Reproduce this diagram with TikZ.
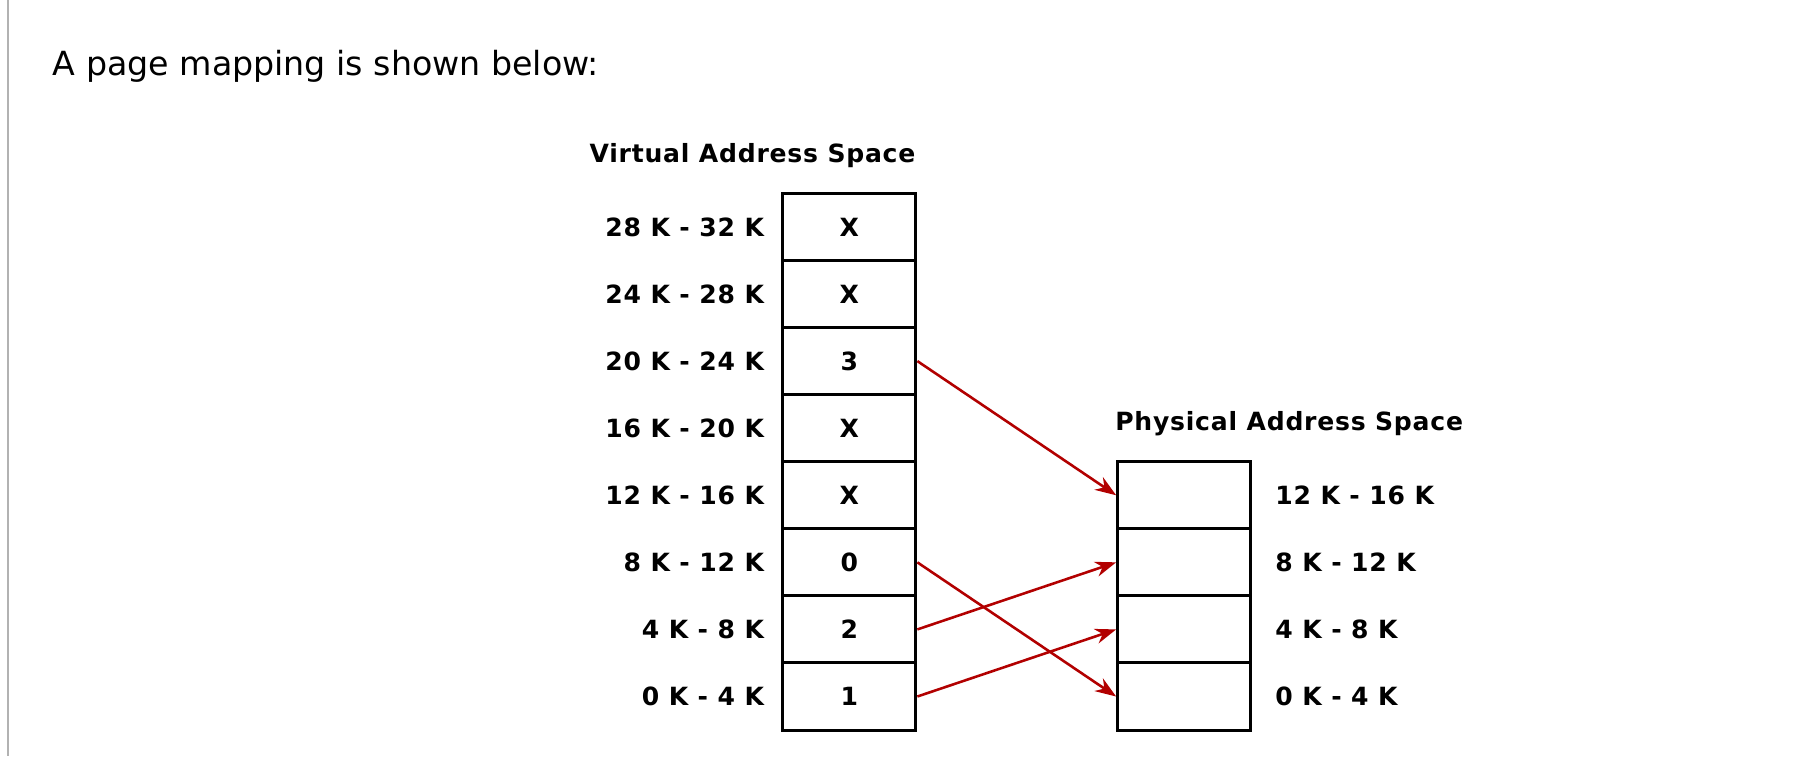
\documentclass[tikz,border=0pt]{standalone}
\usepackage{fontspec}
\setmainfont{DejaVu Sans}
\newfontfamily\labfont[LetterSpace=3]{DejaVu Sans Bold}
\usetikzlibrary{arrows.meta}
\definecolor{arr}{HTML}{B20000}
\tikzset{
  cell/.style={draw,line width=2.6pt,minimum width=114pt,minimum height=57.5pt,inner sep=0pt,font=\fontsize{21.5}{24}\labfont},
  lab/.style={inner sep=0pt,font=\fontsize{21.5}{24}\labfont},
  map/.style={draw=arr,line width=2.2pt,-{Stealth[length=18pt,width=13pt]}}
}
\begin{document}
\begin{tikzpicture}[x=1pt,y=-1pt]
\useasboundingbox (0,0) rectangle (1560,648);
\fill[white] (0,0) rectangle (1560,648);
\draw[gray!60,line width=1.5pt] (7,0) -- (7,648);
\node[anchor=west,inner sep=0pt,font=\fontsize{28.5}{32}\selectfont] (intro) at (45,57) {A page mapping is shown below:};
\node[lab] (vt) at (645,133) {Virtual Address Space};
\node[lab] (pt) at (1105,363) {Physical Address Space};
\foreach \i/\t/\l in {0/X/28 K - 32 K,1/X/24 K - 28 K,2/3/20 K - 24 K,3/X/16 K - 20 K,4/X/12 K - 16 K,5/0/8 K - 12 K,6/2/4 K - 8 K,7/1/0 K - 4 K}{
  \node[cell] (v\i) at (728,{194.5+57.5*\i}) {\t};
  \node[lab,anchor=east] (vl\i) at (655,{194.5+57.5*\i}) {\l};
}
\foreach \i/\l in {0/12 K - 16 K,1/8 K - 12 K,2/4 K - 8 K,3/0 K - 4 K}{
  \node[cell] (p\i) at (1015,{424.5+57.5*\i}) {};
  \node[lab,anchor=west] (pl\i) at (1093,{424.5+57.5*\i}) {\l};
}
\draw[map] (v2.east) -- (p0.west);
\draw[map] (v5.east) -- (p3.west);
\draw[map] (v6.east) -- (p1.west);
\draw[map] (v7.east) -- (p2.west);
\end{tikzpicture}
\end{document}
